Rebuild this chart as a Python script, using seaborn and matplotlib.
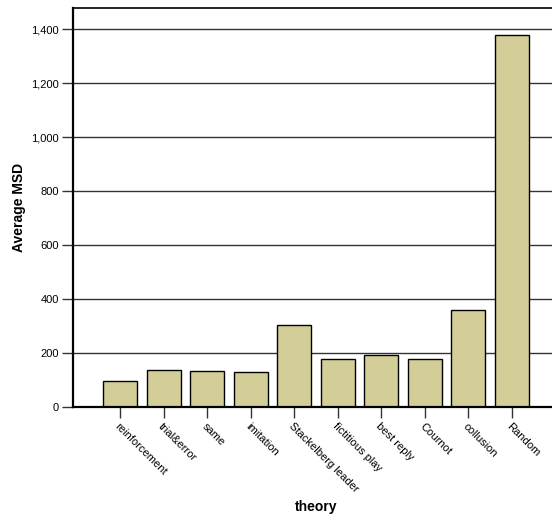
import pandas as pd
import matplotlib
matplotlib.use("Agg")
import matplotlib.pyplot as plt
import seaborn as sns
from matplotlib.ticker import FuncFormatter

theories = ['reinforcement', 'trial&error', 'same', 'imitation', 'Stackelberg leader',
            'fictitious play', 'best reply', 'Cournot', 'collusion', 'Random']
avg_msd = [95, 138, 135, 131, 304, 177, 191, 177, 359, 1378]
y_ticks = [0, 200, 400, 600, 800, 1000, 1200, 1400]

df = pd.DataFrame({'theory': theories, 'msd': avg_msd})

sns.set_theme(style="white")
plt.rcParams['font.family'] = ['Liberation Sans', 'DejaVu Sans']

fig = plt.figure(figsize=(5.52, 5.2), dpi=100)
ax = fig.add_axes([73 / 552, 113 / 520, (559 - 73) / 552, (407 - 8) / 520])

ax.set_axisbelow(True)
for t in y_ticks[1:]:
    ax.axhline(t, color='#333333', linewidth=1.0, zorder=0)

sns.barplot(data=df, x='theory', y='msd', color='#d3ce97', edgecolor='black',
            linewidth=1.0, width=0.78, saturation=1, ax=ax)

ax.set_xlim(-1.08, 10.08)
ax.set_ylim(0, 1478)
ax.set_yticks(y_ticks)
ax.yaxis.set_major_formatter(FuncFormatter(lambda v, p: f"{int(v):,}"))

for s in ['left', 'bottom', 'top', 'right']:
    ax.spines[s].set_color('black')
    ax.spines[s].set_linewidth(1.2)
ax.spines['left'].set_linewidth(1.6)
ax.spines['bottom'].set_linewidth(1.6)

ax.tick_params(axis='both', which='major', direction='out', length=8, width=1,
               color='#333333', labelsize=8, labelcolor='black',
               left=True, bottom=True, pad=2)
ax.set_xticks(range(len(theories)))
ax.set_xticklabels(theories, rotation=-45, ha='left', va='top', rotation_mode='anchor')

ax.set_xlabel('theory', fontsize=10, fontweight='bold', color='black')
ax.xaxis.set_label_coords(0.5, -0.232)
ax.set_ylabel('Average MSD', fontsize=10, fontweight='bold', color='black', labelpad=4)

fig.savefig('out.png', dpi=100)
